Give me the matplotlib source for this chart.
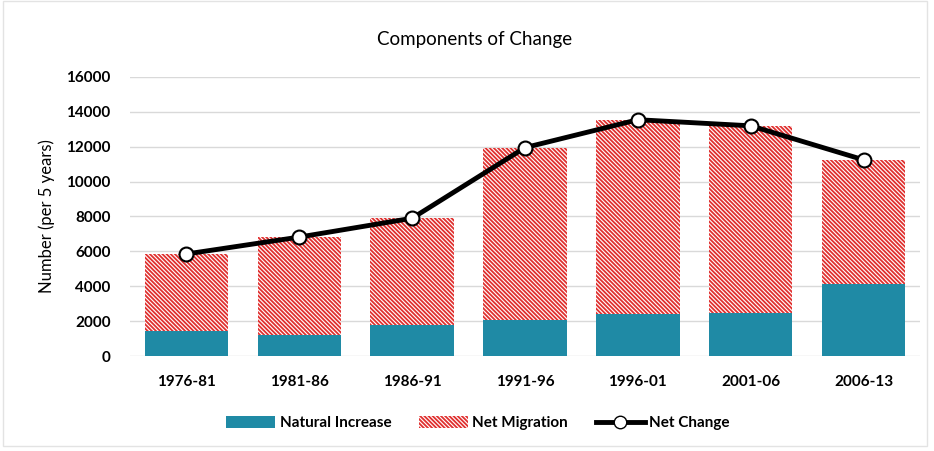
import matplotlib
matplotlib.use("Agg")
import matplotlib.pyplot as plt
from matplotlib.lines import Line2D
from matplotlib.patches import Patch, Rectangle

plt.rcParams["font.family"] = ["Lato", "DejaVu Sans"]
plt.rcParams["hatch.linewidth"] = 1.3

periods = ["1976-81", "1981-86", "1986-91", "1991-96", "1996-01", "2001-06", "2006-13"]
natural_increase = [1450, 1220, 1750, 2050, 2420, 2480, 4150]
net_migration = [4400, 5600, 6150, 9900, 11130, 10720, 7100]
net_change = [5850, 6820, 7900, 11950, 13550, 13200, 11250]

TEAL = "#1f8aa5"
RED = "#e0302f"
HATCH = "\\" * 8

fig = plt.figure(figsize=(9.34, 4.51), dpi=100)
ax = fig.add_axes([130 / 934, 1 - 356 / 451, 790 / 934, 279 / 451])

x = range(len(periods))
ax.bar(x, natural_increase, width=0.74, color=TEAL, zorder=2)
ax.bar(x, net_migration, width=0.74, bottom=natural_increase, color="white",
       edgecolor=RED, hatch=HATCH, linewidth=0, zorder=2)
ax.plot(x, net_change, color="black", lw=3.5, marker="o", ms=10,
        mfc="white", mec="black", mew=1.5, zorder=3)

ax.set_xlim(-0.5, len(periods) - 0.5)
ax.set_ylim(0, 16000)
ax.set_yticks(range(0, 16001, 2000))
ax.set_xticks(list(x))
ax.set_xticklabels(periods, fontsize=11, fontweight="bold")
ax.tick_params(axis="y", labelsize=11, length=0, pad=14)
ax.tick_params(axis="x", length=0, pad=14)
for lbl in ax.get_yticklabels():
    lbl.set_fontweight("bold")
ax.grid(axis="y", color="#d9d9d9", lw=1, zorder=0)
for s in ax.spines.values():
    s.set_visible(False)
ax.set_ylabel("Number (per 5 years)", fontsize=12, labelpad=8)

fig.text(475 / 934, 1 - 40 / 451, "Components of Change", ha="center", va="center", fontsize=13.5)

handles = [
    Patch(facecolor=TEAL),
    Patch(facecolor="white", edgecolor=RED, hatch=HATCH, linewidth=0),
    Line2D([], [], color="black", lw=3.5, marker="o", ms=9, mfc="white", mec="black"),
]
fig.legend(handles, ["Natural Increase", "Net Migration", "Net Change"],
           loc="center", bbox_to_anchor=(478 / 934, 1 - 423 / 451), ncol=3,
           frameon=False, prop={"weight": "bold", "size": 11},
           handlelength=3.2, handleheight=0.9, handletextpad=0.3, columnspacing=1.8)

fig.patches.append(Rectangle((0.003, 0.012), 0.99, 0.985, transform=fig.transFigure,
                             fill=False, edgecolor="#e3e3e3", lw=1))

fig.savefig("out.png", dpi=100)
